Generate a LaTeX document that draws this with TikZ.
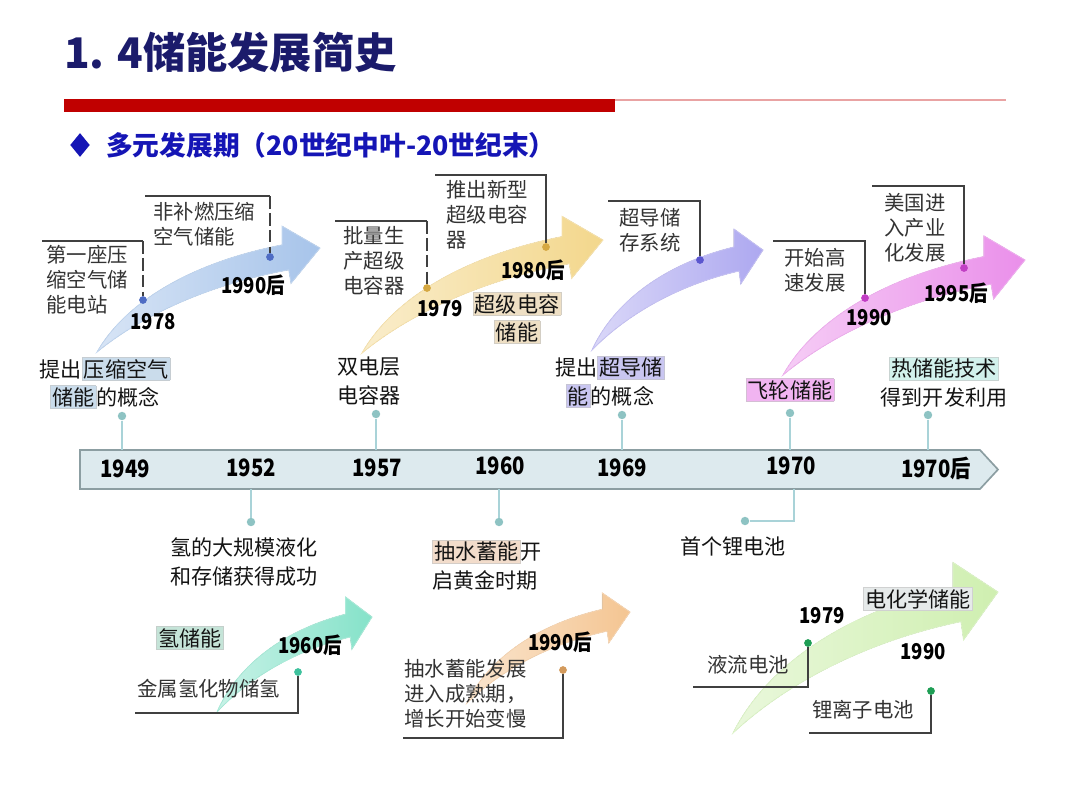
\documentclass[tikz,border=0pt]{standalone}
\usepackage{fontspec}
\setmainfont{Noto Sans CJK SC}
\newfontfamily\yrfont[FakeStretch=0.85]{Noto Sans CJK SC}
\usepackage{tikz}
\usetikzlibrary{positioning, shapes.geometric, calc}

\definecolor{titlenavy}{HTML}{1B1B6B}
\definecolor{redbar}{HTML}{C00000}
\definecolor{redline}{HTML}{E9A3A3}
\definecolor{subblue}{HTML}{1515B5}
\definecolor{barfill}{HTML}{DDEAEE}
\definecolor{barline}{HTML}{8C9EA2}
\definecolor{tickcol}{HTML}{A9D3D8}
\definecolor{tickdot}{HTML}{8EC3C3}
\definecolor{arrowblue}{HTML}{A7C4EA}
\definecolor{arrowyellow}{HTML}{F3D78C}
\definecolor{arrowpurple}{HTML}{ADA8F0}
\definecolor{arrowpink}{HTML}{EA8FEA}
\definecolor{arrowteal}{HTML}{85E2C9}
\definecolor{arroworange}{HTML}{F4C592}
\definecolor{arrowgreen}{HTML}{CFEFB0}
\definecolor{dotblue}{HTML}{4E6CC4}
\definecolor{dotyellow}{HTML}{D5A842}
\definecolor{dotpurple}{HTML}{5B56CF}
\definecolor{dotpink}{HTML}{C13FC4}
\definecolor{dotteal}{HTML}{3FC29E}
\definecolor{dotorange}{HTML}{D39A5C}
\definecolor{dotgreen}{HTML}{1F9E55}
\definecolor{hlblue}{HTML}{CADCEB}
\definecolor{hltan}{HTML}{EEDFC4}
\definecolor{hlpurple}{HTML}{C9C6F1}
\definecolor{hlpink}{HTML}{F1B4F1}
\definecolor{hlcyan}{HTML}{D2F1EC}
\definecolor{hlteal}{HTML}{C5E4D8}
\definecolor{hlorange}{HTML}{F2DCCB}
\definecolor{hlgray}{HTML}{E6EAEA}

\newcommand{\hlt}[2]{{\setlength{\fboxsep}{1pt}\setlength{\fboxrule}{0.4pt}\fcolorbox{#1!70!black!50}{#1}{#2}}}

\tikzset{
  lbl/.style={font=\fontsize{14.5}{17.8}\selectfont, text=black!80, align=left, anchor=west, inner sep=0pt},
  evt/.style={font=\fontsize{15}{20}\selectfont, text=black!92, align=center, inner sep=0pt},
  yr/.style={font=\yrfont\fontsize{15.5}{17}\selectfont\bfseries, inner sep=0pt},
  tlyr/.style={font=\yrfont\fontsize{17}{18}\selectfont\bfseries, inner sep=0pt},
  dotmark/.style={circle, fill=#1, inner sep=0pt, minimum size=5.5pt},
  tdot/.style={circle, fill=tickdot, inner sep=0pt, minimum size=6pt},
  tickline/.style={draw=tickcol, line width=1pt},
  brk/.style={draw=black!75, line width=1.3pt},
  brkdash/.style={brk, dash pattern=on 9pt off 3pt},
  pics/bigarrow/.style={code={
    \fill[left color=#1!45!white, right color=#1, draw=#1!70!white, line width=0.6pt]
      (0,0) .. controls (0.12,0.45) and (0.40,0.85) .. (0.83,1.03)
      -- (0.83,1.21) -- (1,1) -- (0.87,0.66) -- (0.86,0.79)
      .. controls (0.50,0.65) and (0.20,0.35) .. (0,0) -- cycle;
  }}
}

\begin{document}
\begin{tikzpicture}[x=0.025cm, y=-0.025cm]
  \useasboundingbox (0,0) rectangle (1080,810);

  % Title and header bar
  \node[font=\fontsize{30}{34}\selectfont\bfseries, text=titlenavy, anchor=west, inner sep=0pt] (title) at (64,52) {1. 4储能发展简史};
  \fill[redbar] (64,99) rectangle (615,112);
  \draw[redline, line width=2pt] (615,100) -- (1006,100);
  \node[diamond, fill=subblue, minimum width=14pt, minimum height=17pt, inner sep=0pt] (bullet) at (80,145) {};
  \node[font=\fontsize{19}{21}\selectfont\bfseries, text=subblue, anchor=west, inner sep=0pt] (subtitle) at (106,145) {多元发展期（20世纪中叶-20世纪末）};

  % Curved arrows
  \pic[xscale=223, yscale=-104] at (97,352) {bigarrow=arrowblue};
  \pic[xscale=241, yscale=-113] at (362,353) {bigarrow=arrowyellow};
  \pic[xscale=171, yscale=-100] at (592,350) {bigarrow=arrowpurple};
  \pic[xscale=242, yscale=-115] at (783,375) {bigarrow=arrowpink};
  \pic[xscale=155, yscale=-95] at (217,712) {bigarrow=arrowteal};
  \pic[xscale=163, yscale=-91] at (467,703) {bigarrow=arroworange};
  \pic[xscale=265, yscale=-141] at (733,733) {bigarrow=arrowgreen};

  % Timeline bar
  \draw[fill=barfill, draw=barline, line width=1.2pt] (80,450) -- (980,450) -- (998,469.5) -- (980,489) -- (80,489) -- cycle;
  \node[tlyr] (y1949) at (125,469) {1949};
  \node[tlyr] (y1952) at (251,468) {1952};
  \node[tlyr] (y1957) at (377,468) {1957};
  \node[tlyr] (y1960) at (500,466) {1960};
  \node[tlyr] (y1969) at (622,468) {1969};
  \node[tlyr] (y1970) at (791,466) {1970};
  \node[tlyr] (y1970h) at (936,468) {1970后};

  % Ticks above the bar
  \node[tdot] (topA) at (122,416) {};
  \node[tdot] (topB) at (376,414) {};
  \node[tdot] (topC) at (622,415) {};
  \node[tdot] (topD) at (790,413) {};
  \node[tdot] (topE) at (928,415) {};
  \coordinate (barA) at (122,450);
  \coordinate (barB) at (376,450);
  \coordinate (barC) at (622,450);
  \coordinate (barD) at (790,450);
  \coordinate (barE) at (928,450);
  \draw[tickline] (topA) -- (barA);
  \draw[tickline] (topB) -- (barB);
  \draw[tickline] (topC) -- (barC);
  \draw[tickline] (topD) -- (barD);
  \draw[tickline] (topE) -- (barE);

  % Ticks below the bar
  \node[tdot] (botA) at (251,522) {};
  \node[tdot] (botB) at (499,522) {};
  \node[tdot] (botC) at (745,521) {};
  \coordinate (barF) at (251,489);
  \coordinate (barG) at (499,489);
  \coordinate (barH) at (794,489);
  \draw[tickline] (barF) -- (botA);
  \draw[tickline] (barG) -- (botB);
  \draw[tickline] (barH) |- (botC);

  % Events above
  \node[evt] (evCAES) at (105,383) {提出\hlt{hlblue}{压缩空气}\\\hlt{hlblue}{储能}的概念};
  \node[evt] (evEDLC) at (369,381) {双电层\\电容器};
  \node[evt] (evSMES) at (610,382) {提出\hlt{hlpurple}{超导储}\\\hlt{hlpurple}{能}的概念};
  \node[evt] (evFly) at (790,390) {\hlt{hlpink}{飞轮储能}};
  \node[evt] (evTES) at (944,382) {\hlt{hlcyan}{热储能技术}\\得到开发利用};

  % Events below
  \node[evt, align=left, anchor=west] (evH2) at (170,562) {氢的大规模液化\\和存储获得成功};
  \node[evt, align=left, anchor=west] (evPHS) at (432,565) {\hlt{hlorange}{抽水蓄能}开\\启黄金时期};
  \node[evt, anchor=west] (evLi) at (680,546) {首个锂电池};

  % Compressed air
  \node[dotmark=dotblue] (d1978) at (143,300) {};
  \coordinate (k1978) at (42,241);
  \coordinate (c1978) at (143,241);
  \draw[brk] (k1978) -- (c1978);
  \draw[brkdash] (c1978) -- (d1978);
  \node[lbl] (t1978) at (46,280) {第一座压\\缩空气储\\能电站};
  \node[yr] (y1978) at (153,322) {1978};
  \node[dotmark=dotblue] (d1990a) at (270,257) {};
  \coordinate (k1990a) at (145,196);
  \coordinate (c1990a) at (270,196);
  \draw[brk] (k1990a) -- (c1990a);
  \draw[brkdash] (c1990a) -- (d1990a);
  \node[lbl] (t1990a) at (153,224) {非补燃压缩\\空气储能};
  \node[yr] (n1990a) at (253,285) {1990后};

  % Supercapacitor
  \node[dotmark=dotyellow] (d1979a) at (427,288) {};
  \coordinate (k1979a) at (335,221);
  \coordinate (c1979a) at (427,221);
  \draw[brk] (k1979a) -- (c1979a);
  \draw[brkdash] (c1979a) -- (d1979a);
  \node[lbl] (t1979a) at (343,261) {批量生\\产超级\\电容器};
  \node[yr] (n1979a) at (440,309) {1979};
  \node[dotmark=dotyellow] (d1980) at (546,247) {};
  \coordinate (k1980) at (435,175);
  \coordinate (c1980) at (546,175);
  \draw[brk] (k1980) -- (c1980) -- (d1980);
  \node[lbl] (t1980) at (446,215) {推出新型\\超级电容\\器};
  \node[yr] (n1980) at (533,270) {1980后};
  \node[evt] (catSC) at (517,318) {\hlt{hltan}{超级电容}\\\hlt{hltan}{储能}};

  % Superconducting
  \node[dotmark=dotpurple] (dSMES) at (700,260) {};
  \coordinate (kSMES) at (608,201);
  \coordinate (cSMES) at (700,201);
  \draw[brk] (kSMES) -- (cSMES) -- (dSMES);
  \node[lbl] (tSMES) at (619,230) {超导储\\存系统};

  % Flywheel
  \node[dotmark=dotpink] (d1990b) at (865,298) {};
  \coordinate (k1990b) at (773,241);
  \coordinate (c1990b) at (865,241);
  \draw[brk] (k1990b) -- (c1990b) -- (d1990b);
  \node[lbl] (t1990b) at (784,270) {开始高\\速发展};
  \node[yr] (n1990b) at (869,318) {1990};
  \node[dotmark=dotpink] (d1995) at (964,268) {};
  \coordinate (k1995) at (872,186);
  \coordinate (c1995) at (964,186);
  \draw[brk] (k1995) -- (c1995) -- (d1995);
  \node[lbl] (t1995) at (884,228) {美国进\\入产业\\化发展};
  \node[yr] (n1995) at (956,293) {1995后};

  % Hydrogen
  \node[evt] (catH2) at (190,638) {\hlt{hlteal}{氢储能}};
  \node[yr] (n1960) at (310,645) {1960后};
  \node[dotmark=dotteal] (d1960) at (298,672) {};
  \coordinate (c1960) at (298,713);
  \coordinate (k1960) at (135,713);
  \draw[brk] (d1960) -- (c1960) -- (k1960);
  \node[lbl] (t1960) at (137,689) {金属氢化物储氢};

  % Pumped hydro
  \node[yr] (n1990c) at (560,642) {1990后};
  \node[dotmark=dotorange] (d1990c) at (563,670) {};
  \coordinate (c1990c) at (563,738);
  \coordinate (k1990c) at (403,738);
  \draw[brk] (d1990c) -- (c1990c) -- (k1990c);
  \node[lbl] (t1990c) at (404,694) {抽水蓄能发展\\进入成熟期，\\增长开始变慢};

  % Electrochemical
  \node[evt] (catEC) at (918,599) {\hlt{hlgray}{电化学储能}};
  \node[yr] (n1979b) at (822,616) {1979};
  \node[dotmark=dotgreen] (d1979b) at (808,643) {};
  \coordinate (c1979b) at (808,687);
  \coordinate (k1979b) at (693,687);
  \draw[brk] (d1979b) -- (c1979b) -- (k1979b);
  \node[lbl, anchor=center] (t1979b) at (748,665) {液流电池};
  \node[yr] (n1990d) at (923,652) {1990};
  \node[dotmark=dotgreen] (d1990d) at (931,691) {};
  \coordinate (c1990d) at (931,733);
  \coordinate (k1990d) at (809,733);
  \draw[brk] (d1990d) -- (c1990d) -- (k1990d);
  \node[lbl, anchor=center] (t1990d) at (863,710) {锂离子电池};
\end{tikzpicture}
\end{document}
